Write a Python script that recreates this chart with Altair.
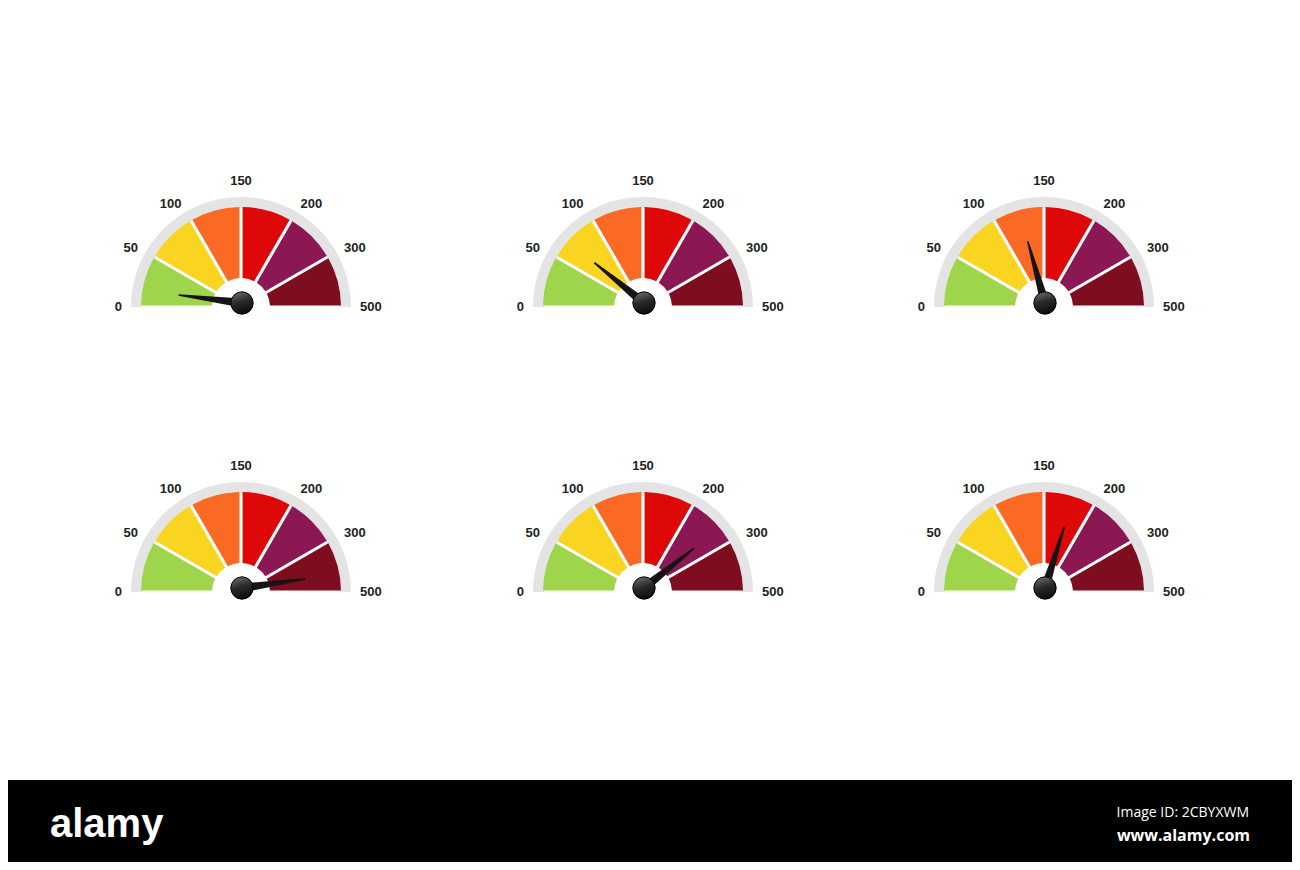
import math
import altair as alt
import pandas as pd

# ---- data -------------------------------------------------------------
gauge_col_x = [241, 643, 1044]          # gauge centre x (page px, layout)
gauge_row_y = [307, 592]                # gauge baseline y (page px, layout)
needle_values = [12, 65, 124, 445, 272, 179]   # row-major, one per gauge
scale_ticks = [0, 50, 100, 150, 200, 300, 500]
band_names = ["b0-50", "b50-100", "b100-150", "b150-200", "b200-300", "b300-500"]
band_colors = ["#9fd54a", "#f9d420", "#fa6a24", "#de0808", "#8b1853", "#7d0d1f"]

# ---- tables -------------------------------------------------------------
gauges = [(cx, cy) for cy in gauge_row_y for cx in gauge_col_x]

seg_rows, ring_rows, lab_rows, ndl_rows = [], [], [], []
for g, (cx, cy) in enumerate(gauges):
    ring_rows.append(dict(cx=cx, cy=cy, start=scale_ticks[0], end=scale_ticks[-1]))
    for i in range(len(band_names)):
        seg_rows.append(dict(cx=cx, cy=cy, start=scale_ticks[i],
                             end=scale_ticks[i + 1], band=band_names[i]))
    for t in scale_ticks:
        side = "left" if t < 150 else ("top" if t == 150 else "right")
        lab_rows.append(dict(cx=cx, cy=cy, value=t, label=str(t), side=side))
    ndl_rows.append(dict(cx=cx + 1, cy=cy - 4, value=needle_values[g]))

seg_df = pd.DataFrame(seg_rows)
ring_df = pd.DataFrame(ring_rows)
lab_df = pd.DataFrame(lab_rows)
ndl_df = pd.DataFrame(ndl_rows)
one_df = pd.DataFrame({"k": [0]})

# ---- scales ------------------------------------------------------------
W, H = 1284, 854
xs = alt.Scale(domain=[8, 8 + W], nice=False, zero=False)
ys = alt.Scale(domain=[8, 8 + H], nice=False, zero=False, reverse=True)
theta_scale = alt.Scale(
    type="linear", domain=scale_ticks,
    range=[1.5 * math.pi + i * math.pi / 6 for i in range(len(scale_ticks))],
)
angle_scale = alt.Scale(
    type="linear", domain=scale_ticks,
    range=[270 + 30 * i for i in range(len(scale_ticks))],
)

X = alt.X("cx:Q", scale=xs, axis=None)
Y = alt.Y("cy:Q", scale=ys, axis=None)

band = alt.Chart(one_df).mark_rect(color="#000000").encode(
    x=alt.value(0), x2=alt.value(W), y=alt.value(772), y2=alt.value(H)
)

ring = alt.Chart(ring_df).mark_arc(color="#e4e4e4", radius=110, radius2=99).encode(
    x=X, y=Y,
    theta=alt.Theta("start:Q", scale=theta_scale, stack=None),
    theta2="end:Q",
)

segs = alt.Chart(seg_df).mark_arc(radius=100, radius2=29, padAngle=0.03).encode(
    x=X, y=Y,
    theta=alt.Theta("start:Q", scale=theta_scale, stack=None),
    theta2="end:Q",
    color=alt.Color("band:N", scale=alt.Scale(domain=band_names, range=band_colors),
                    legend=None),
)


def label_layer(side, align, baseline):
    return alt.Chart(lab_df).transform_filter(
        alt.datum.side == side
    ).mark_text(
        radius=119, fontSize=13, fontWeight="bold", font="Liberation Sans",
        color="#222222", align=align, baseline=baseline,
    ).encode(
        x=X, y=Y,
        theta=alt.Theta("value:Q", scale=theta_scale, stack=None),
        text="label:N",
    )


labels_left = label_layer("left", "right", "middle")
labels_top = label_layer("top", "center", "bottom")
labels_right = label_layer("right", "left", "middle")

needle_path = "M -0.075 0.06 L -0.013 -1 L 0.013 -1 L 0.075 0.06 Z"
needles = alt.Chart(ndl_df).mark_point(
    shape=needle_path, filled=True, size=16384, color="#151515",
    opacity=1, strokeWidth=0,
).encode(
    x=X, y=Y,
    angle=alt.Angle("value:Q", scale=angle_scale),
)

hubs = alt.Chart(ndl_df).mark_point(
    shape="circle", filled=True, size=500, opacity=1,
    fill={"gradient": "linear", "x1": 0.3, "y1": 0, "x2": 0.6, "y2": 1,
          "stops": [{"offset": 0, "color": "#6a6a6a"},
                    {"offset": 0.45, "color": "#2a2a2a"},
                    {"offset": 1, "color": "#0a0a0a"}]},
    stroke="#000000", strokeWidth=1,
).encode(x=X, y=Y)

logo = alt.Chart(one_df).mark_text(
    text="alamy", font="'Liberation Sans Narrow', 'Liberation Sans', sans-serif",
    fontSize=40, fontWeight="bold", color="#ffffff", align="left",
    baseline="alphabetic",
).encode(x=alt.value(42), y=alt.value(829))

img_id = alt.Chart(one_df).mark_text(
    text="Image ID: 2CBYXWM", font="Open Sans", fontSize=14, color="#ffffff",
    align="right", baseline="alphabetic",
).encode(x=alt.value(1241), y=alt.value(809))

site = alt.Chart(one_df).mark_text(
    text="www.alamy.com", font="Open Sans", fontSize=16, fontWeight="bold",
    color="#ffffff", align="right", baseline="alphabetic",
).encode(x=alt.value(1242), y=alt.value(833))

chart = alt.layer(
    band, ring, segs, labels_left, labels_top, labels_right,
    needles, hubs, logo, img_id, site
).properties(
    width=W, height=H, padding=0, autosize=alt.AutoSizeParams(type="none"),
).configure_view(stroke=None)

chart.save("out.html", embed_options={"renderer": "svg", "actions": False})
